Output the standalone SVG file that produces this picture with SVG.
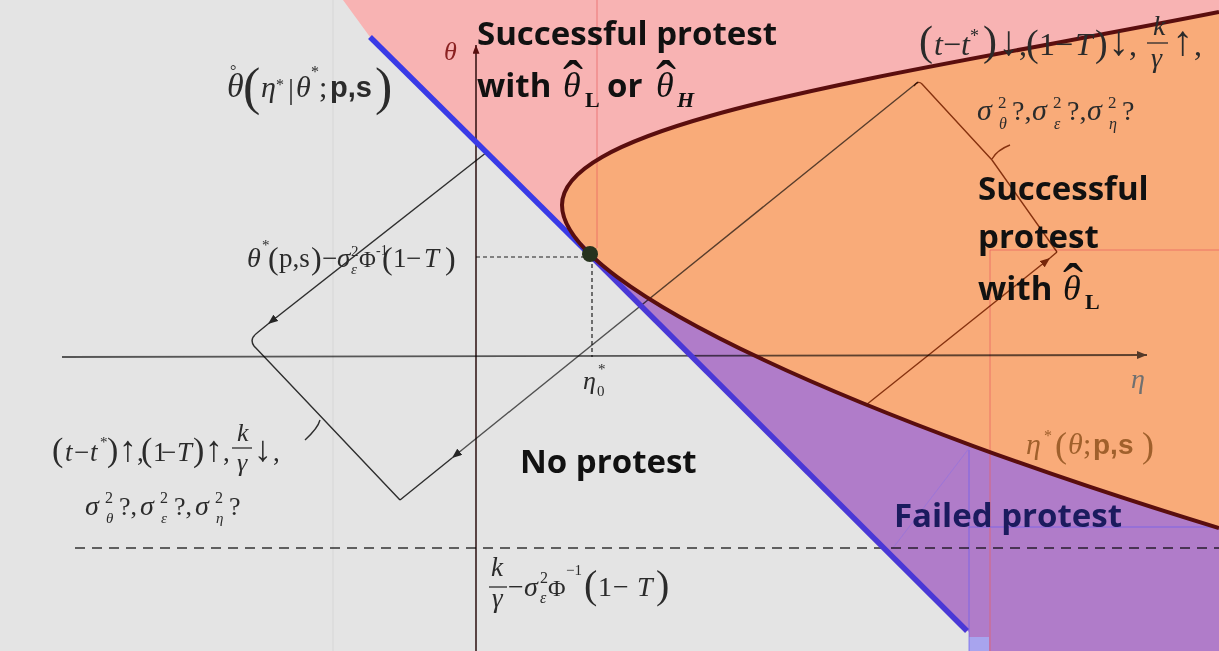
<svg xmlns="http://www.w3.org/2000/svg" width="1219" height="651" viewBox="0 0 1219 651">
<defs>
<style>
.mi{font-family:"Liberation Serif","DejaVu Serif",serif;font-style:italic}
.mr{font-family:"Liberation Serif","DejaVu Serif",serif;font-style:normal}
.f{font-family:"Liberation Serif","DejaVu Serif",serif;fill:#2b2b2b}
.bs{font-family:"Liberation Sans",sans-serif;font-weight:bold;font-style:normal}
.lbl{font-family:"Open Sans","Liberation Sans",sans-serif;font-weight:bold;font-size:33px;fill:#111}
.hat{font-family:"Liberation Serif","DejaVu Serif",serif;font-style:normal;font-weight:normal}
.conn{fill:none;mix-blend-mode:multiply}
.frac{stroke:#2b2b2b;stroke-width:1.3}
.guide{fill:none;stroke-width:1}
</style>
<marker id="ah" viewBox="0 0 10 8" refX="10" refY="4" markerWidth="10" markerHeight="8" markerUnits="userSpaceOnUse" orient="auto"><path d="M0,0 L10,4 L0,8 z" fill="#2a2a2a"/></marker>
<marker id="ahb" viewBox="0 0 10 8" refX="10" refY="4" markerWidth="10" markerHeight="8" markerUnits="userSpaceOnUse" orient="auto"><path d="M0,0 L10,4 L0,8 z" fill="#7a3a14"/></marker>
<marker id="axv" viewBox="0 0 10 8" refX="10" refY="4" markerWidth="9" markerHeight="7" markerUnits="userSpaceOnUse" orient="auto"><path d="M0,0 L10,4 L0,8 z" fill="#5a1515"/></marker>
<marker id="axh" viewBox="0 0 10 8" refX="10" refY="4" markerWidth="10" markerHeight="8" markerUnits="userSpaceOnUse" orient="auto"><path d="M0,0 L10,4 L0,8 z" fill="#555"/></marker>
</defs>

<rect width="1219" height="651" fill="#e4e4e4"/>

<g id="regions">
<path id="pink" d="M343,0 L1219,0 L1219,12 C900,75 562,120 562,205 C562,219.88 571.74,236.28 589.6,253.8 L370,37 Z" fill="#f8b3b3"/>
<path id="orange" d="M1219,12 C900,75 562,120 562,205 C562,290 880,425 1219,528 Z" fill="#f9ab79"/>
<path id="purple" d="M589.6,253.8 L969,632 L969,651 L1219,651 L1219,528 C939.3,443 673.9,336.3 589.6,253.8 Z" fill="#b07cc9"/>
<rect x="969" y="637" width="20" height="14" fill="#a8a4ee"/>
</g>

<g id="guides">
<line x1="333" y1="0" x2="333" y2="651" class="guide" stroke="#d6d6d6"/>
<line x1="597" y1="0" x2="597" y2="248" class="guide" stroke="#e86060" opacity="0.7"/>
<line x1="990" y1="250" x2="990" y2="651" class="guide" stroke="#e86060" opacity="0.7"/>
<line x1="990" y1="250" x2="1219" y2="250" class="guide" stroke="#e86060" opacity="0.7"/>
<line x1="969" y1="450" x2="969" y2="651" class="guide" stroke="#6a5cf0" opacity="0.7"/>
<line x1="969" y1="527" x2="1212" y2="527" class="guide" stroke="#6a5cf0" opacity="0.7"/>
<line x1="893" y1="548" x2="970" y2="447" class="guide" stroke="#8a70e8" opacity="0.5"/>
</g>

<g id="connectors">
<line x1="476" y1="651" x2="476" y2="45" class="conn" stroke="#3c2020" stroke-width="1.6" marker-end="url(#axv)"/>
<line x1="62" y1="357" x2="1147" y2="355" class="conn" stroke="#606060" stroke-width="1.8" marker-end="url(#axh)"/>
<line x1="75" y1="548" x2="1219" y2="548" class="conn" stroke="#3a3a3a" stroke-width="1.5" stroke-dasharray="10 7"/>
<path d="M476,257 H590 M592,257 V357" class="conn" stroke="#222" stroke-width="1.2" stroke-dasharray="4 3"/>
<path d="M487,152 L268,324" class="conn" stroke="#333" stroke-width="1.4" marker-end="url(#ah)"/>
<path d="M268,324 L257,333 Q249,339 254,346 L400,500" class="conn" stroke="#333" stroke-width="1.4"/>
<path d="M320,420 Q318,428 305,440" class="conn" stroke="#333" stroke-width="1.4"/>
<path d="M918,82 L452,458" class="conn" stroke="#5a5a5a" stroke-width="1.4" marker-end="url(#ah)"/>
<path d="M452,458 L400,500" class="conn" stroke="#333" stroke-width="1.4"/>
<path d="M914,86 Q918,80 922,84 L992,160 L1057,252" class="conn" stroke="#8a4a1e" stroke-width="1.4"/>
<path d="M992,159 Q997,150 1010,145" class="conn" stroke="#8a4a1e" stroke-width="1.4"/>
<path d="M866,405 L1050,258" class="conn" stroke="#8a4a1e" stroke-width="1.4" marker-end="url(#ahb)"/>
<path d="M1050,258 L1057,252" class="conn" stroke="#8a4a1e" stroke-width="1.4"/>
</g>

<g id="boundaries">
<line x1="370" y1="37" x2="590" y2="255" stroke="#3a3ae6" stroke-width="5.5"/>
<line x1="590" y1="255" x2="967" y2="631" stroke="#4a38d6" stroke-width="5.5"/>
<path d="M1219,12 C900,75 562,120 562,205 C562,290 880,425 1219,528" fill="none" stroke="#5a0e0e" stroke-width="4"/>
<circle cx="590" cy="254" r="8" fill="#26331e"/>
</g>

<g id="axis-theta"><text class="mi" x="444" y="60" font-size="26" fill="#8b2222">θ</text></g>
<g id="axis-eta"><text class="mi" x="1131" y="388" font-size="28" fill="#707070">η</text></g>

<g id="label-theta-ring">
<text class="f" font-size="30"><tspan class="mi" x="227" y="97" font-size="34">θ</tspan><tspan class="mr" x="230" y="76" font-size="16">°</tspan><tspan class="mr" x="243" y="104" font-size="52">(</tspan><tspan class="mi" x="261" y="97">η</tspan><tspan class="mr" x="276" y="90" font-size="16">*</tspan><tspan class="mr" x="288" y="99">|</tspan><tspan class="mi" x="296" y="97">θ</tspan><tspan class="mr" x="311" y="77" font-size="16">*</tspan><tspan class="mr" x="319" y="97">;</tspan><tspan class="bs" x="330" y="97" font-size="29">p,s</tspan><tspan class="mr" x="375" y="104" font-size="52">)</tspan></text>
</g>

<g id="label-success-both">
<text class="lbl" x="477" y="45">Successful protest</text>
<text class="lbl"><tspan x="477" y="97">with</tspan><tspan class="mi" x="563" y="97" font-size="36" font-weight="normal">θ</tspan><tspan class="hat" x="563" y="101" font-size="60">ˆ</tspan><tspan class="mr" x="585" y="107" font-size="22">L</tspan><tspan x="607" y="97">or</tspan><tspan class="mi" x="656" y="97" font-size="36" font-weight="normal">θ</tspan><tspan class="hat" x="656" y="101" font-size="60">ˆ</tspan><tspan class="mi" x="677" y="107" font-size="22">H</tspan></text>
</g>

<g id="label-shift-up">
<text class="f" font-size="32"><tspan class="mr" x="919" y="55" font-size="42">(</tspan><tspan class="mi" x="934" y="55">t</tspan><tspan class="mr" x="943" y="55">−</tspan><tspan class="mi" x="961" y="55">t</tspan><tspan class="mr" x="970" y="42" font-size="18">*</tspan><tspan class="mr" x="983" y="55" font-size="42">)</tspan><tspan class="mr" x="998" y="55" font-size="42">↓</tspan><tspan class="mr" x="1019" y="55">,</tspan><tspan class="mr" x="1026" y="56" font-size="38">(</tspan><tspan class="mi" x="1039" y="55" style="font-style:normal">1</tspan><tspan class="mr" x="1055" y="55">−</tspan><tspan class="mi" x="1075" y="55">T</tspan><tspan class="mr" x="1095" y="56" font-size="38">)</tspan><tspan class="mr" x="1108" y="55" font-size="42">↓</tspan><tspan class="mr" x="1129" y="55">,</tspan><tspan class="mi" x="1153" y="35" font-size="28">k</tspan><tspan class="mi" x="1151" y="67" font-size="28">γ</tspan><tspan class="mr" x="1172" y="55" font-size="42">↑</tspan><tspan class="mr" x="1194" y="55">,</tspan></text>
<line x1="1147" y1="43" x2="1168" y2="43" class="frac"/>
<text class="f" font-size="28"><tspan class="mi" x="977" y="120" font-size="30">σ</tspan><tspan class="mr" x="998" y="108" font-size="17">2</tspan><tspan class="mi" x="999" y="129" font-size="16">θ</tspan><tspan class="mr" x="1012" y="120">?,</tspan><tspan class="mi" x="1032" y="120" font-size="30">σ</tspan><tspan class="mr" x="1053" y="108" font-size="17">2</tspan><tspan class="mi" x="1054" y="129" font-size="16">ε</tspan><tspan class="mr" x="1067" y="120">?,</tspan><tspan class="mi" x="1087" y="120" font-size="30">σ</tspan><tspan class="mr" x="1108" y="108" font-size="17">2</tspan><tspan class="mi" x="1109" y="129" font-size="16">η</tspan><tspan class="mr" x="1122" y="120">?</tspan></text>
</g>

<g id="label-success-low">
<text class="lbl"><tspan x="978" y="200">Successful</tspan><tspan x="978" y="248">protest</tspan><tspan x="978" y="300">with</tspan><tspan class="mi" x="1063" y="300" font-size="36" font-weight="normal">θ</tspan><tspan class="hat" x="1063" y="304" font-size="60">ˆ</tspan><tspan class="mr" x="1085" y="309" font-size="22">L</tspan></text>
</g>

<g id="label-theta-star">
<text class="f" font-size="27"><tspan class="mi" x="247" y="267" font-size="28">θ</tspan><tspan class="mr" x="262" y="250" font-size="15">*</tspan><tspan class="mr" x="268" y="269" font-size="32">(</tspan><tspan class="mr" x="279" y="267">p,s</tspan><tspan class="mr" x="311" y="269" font-size="32">)</tspan><tspan class="mr" x="322" y="267">−</tspan><tspan class="mi" x="337" y="267">σ</tspan><tspan class="mr" x="351" y="256" font-size="15">2</tspan><tspan class="mi" x="351" y="274" font-size="15">ε</tspan><tspan class="mr" x="359" y="267" font-size="23">Φ</tspan><tspan class="mr" x="376" y="255" font-size="14">-1</tspan><tspan class="mr" x="382" y="269" font-size="32">(</tspan><tspan class="mr" x="393" y="267">1</tspan><tspan class="mr" x="406" y="267">−</tspan><tspan class="mi" x="424" y="267">T</tspan><tspan class="mr" x="445" y="269" font-size="32">)</tspan></text>
</g>

<g id="label-eta0">
<text class="f" font-size="26"><tspan class="mi" x="583" y="389">η</tspan><tspan class="mr" x="597" y="396" font-size="15">0</tspan><tspan class="mr" x="598" y="374" font-size="15">*</tspan></text>
</g>

<g id="label-no-protest"><text class="lbl" x="520" y="473">No protest</text></g>

<g id="label-shift-down">
<text class="f" font-size="27"><tspan class="mr" x="52" y="461" font-size="34">(</tspan><tspan class="mi" x="65" y="461">t</tspan><tspan class="mr" x="74" y="461">−</tspan><tspan class="mi" x="90" y="461">t</tspan><tspan class="mr" x="100" y="447" font-size="15">*</tspan><tspan class="mr" x="107" y="461" font-size="34">)</tspan><tspan class="mr" x="119" y="461" font-size="36">↑</tspan><tspan class="mr" x="137" y="461">,</tspan><tspan class="mr" x="141" y="461" font-size="34">(</tspan><tspan class="mr" x="153" y="461">1</tspan><tspan class="mr" x="161" y="461">−</tspan><tspan class="mi" x="177" y="461">T</tspan><tspan class="mr" x="193" y="461" font-size="34">)</tspan><tspan class="mr" x="205" y="461" font-size="36">↑</tspan><tspan class="mr" x="223" y="461">,</tspan><tspan class="mi" x="237" y="441" font-size="26">k</tspan><tspan class="mi" x="237" y="471" font-size="26">γ</tspan><tspan class="mr" x="254" y="461" font-size="36">↓</tspan><tspan class="mr" x="273" y="461">,</tspan></text>
<line x1="232" y1="448" x2="252" y2="448" class="frac"/>
<text class="f" font-size="26"><tspan class="mi" x="85" y="515" font-size="28">σ</tspan><tspan class="mr" x="105" y="503" font-size="16">2</tspan><tspan class="mi" x="106" y="523" font-size="15">θ</tspan><tspan class="mr" x="119" y="515">?,</tspan><tspan class="mi" x="140" y="515" font-size="28">σ</tspan><tspan class="mr" x="160" y="503" font-size="16">2</tspan><tspan class="mi" x="161" y="523" font-size="15">ε</tspan><tspan class="mr" x="174" y="515">?,</tspan><tspan class="mi" x="195" y="515" font-size="28">σ</tspan><tspan class="mr" x="215" y="503" font-size="16">2</tspan><tspan class="mi" x="216" y="523" font-size="15">η</tspan><tspan class="mr" x="229" y="515">?</tspan></text>
</g>

<g id="label-eta-star">
<text class="f" font-size="30" style="fill:#a0602c"><tspan class="mi" x="1026" y="454">η</tspan><tspan class="mr" x="1044" y="441" font-size="16">*</tspan><tspan class="mr" x="1055" y="457" font-size="36">(</tspan><tspan class="mi" x="1068" y="454">θ</tspan><tspan class="mr" x="1083" y="454">;</tspan><tspan class="bs" x="1093" y="454" font-size="28">p,s</tspan><tspan class="mr" x="1142" y="457" font-size="36">)</tspan></text>
</g>

<g id="label-failed"><text class="lbl" x="894" y="527" style="fill:#1b1b5e">Failed protest</text></g>

<g id="label-threshold">
<text class="f" font-size="28"><tspan class="mi" x="491" y="576" font-size="27">k</tspan><tspan class="mi" x="492" y="607" font-size="27">γ</tspan><tspan class="mr" x="508" y="596">−</tspan><tspan class="mi" x="524" y="596">σ</tspan><tspan class="mr" x="540" y="583" font-size="16">2</tspan><tspan class="mi" x="540" y="603" font-size="16">ε</tspan><tspan class="mr" x="548" y="596" font-size="24">Φ</tspan><tspan class="mr" x="566" y="575" font-size="15">−1</tspan><tspan class="mr" x="584" y="598" font-size="40">(</tspan><tspan class="mr" x="598" y="596">1</tspan><tspan class="mr" x="613" y="596">−</tspan><tspan class="mi" x="637" y="596">T</tspan><tspan class="mr" x="656" y="598" font-size="40">)</tspan></text>
<line x1="489" y1="587" x2="507" y2="587" class="frac"/>
</g>
</svg>
